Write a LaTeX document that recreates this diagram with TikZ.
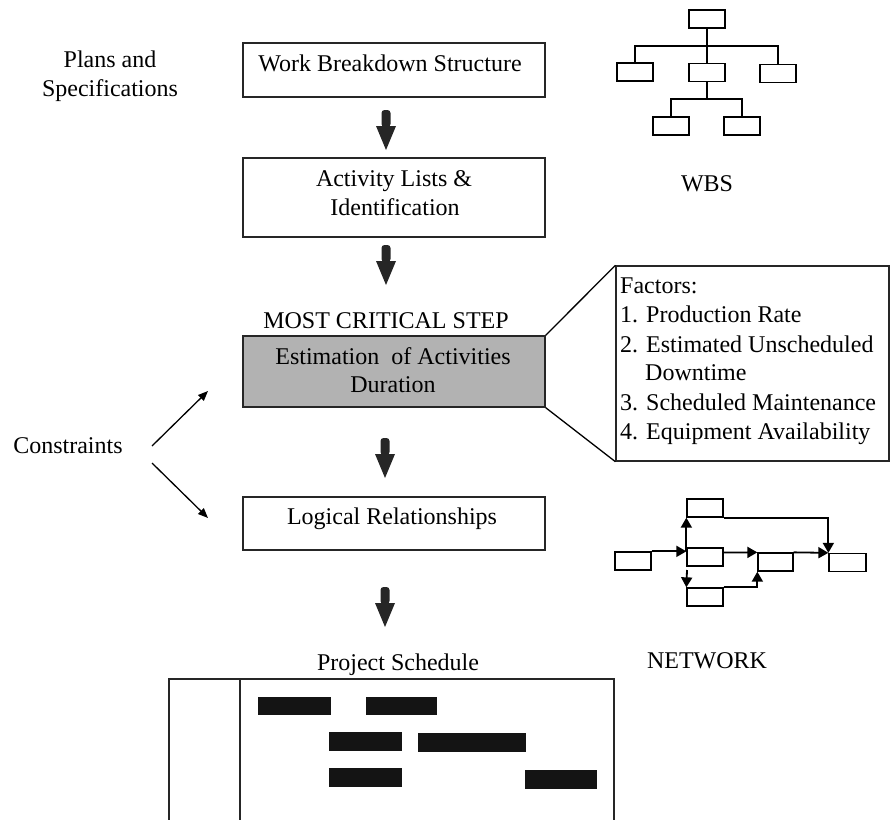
\documentclass[tikz,border=0pt]{standalone}
\usepackage{fontspec}
\setmainfont{Liberation Serif}
\usetikzlibrary{arrows.meta,calc}
\begin{document}
\begin{tikzpicture}[x=1pt,y=-1pt,
  mainbox/.style={draw=black!85, line width=1.3pt, inner sep=0pt, minimum width=302pt},
  txt/.style={anchor=base, inner sep=0pt, font=\fontsize{24}{29}\selectfont},
  ltxt/.style={anchor=base west, inner sep=0pt, font=\fontsize{24}{29}\selectfont},
  smallbox/.style={draw=black, line width=1.3pt, inner sep=0pt, minimum width=36pt, minimum height=18pt},
  treeline/.style={draw=black, line width=1.3pt},
  netline/.style={draw=black, line width=1.8pt, -{Triangle[length=10pt,width=11pt]}},
  thinarrow/.style={draw=black, line width=1.3pt, -{Triangle[length=10pt,width=8pt]}},
  fatarrow/.pic={
    \fill[black!85, rounded corners=3pt] (-4.5,17) -- (-4.5,0) -- (4.5,0) -- (4.5,17) -- cycle;
    \fill[black!85] (-10,16) -- (10,16) -- (0,40) -- cycle;
  },
  ganttbar/.style={fill=black!92, draw=none}
]
\useasboundingbox (0,0) rectangle (891,819);

% main column boxes
\node[mainbox, minimum height=54pt] (wbs) at (394,70) {};
\node[mainbox, minimum height=79pt] (act) at (394,197.5) {};
\node[mainbox, minimum height=71pt, fill=black!30] (est) at (394,371.5) {};
\node[mainbox, minimum height=53pt] (logic) at (394,523.5) {};
\node[draw=black!85, line width=1.3pt, inner sep=0pt, minimum width=273pt, minimum height=195pt] (fac) at (752.5,363.5) {};

% texts in main column
\node[txt] (twbs) at (390,71) {Work Breakdown Structure};
\node[txt] (tact1) at (394,186) {Activity Lists \&};
\node[txt] (tact2) at (395,215) {Identification};
\node[txt] (tmcs) at (386,328) {MOST CRITICAL STEP};
\node[txt] (test1) at (393,364) {Estimation\ \ of Activities};
\node[txt] (test2) at (393,392) {Duration};
\node[txt] (tlog) at (392,524) {Logical Relationships};
\node[txt] (tps) at (398,670) {Project Schedule};

% left labels
\node[txt] (plans1) at (110,67) {Plans and};
\node[txt] (plans2) at (110,96) {Specifications};
\node[txt] (constr) at (68,453) {Constraints};

% right labels
\node[txt] (lwbs) at (707,191) {WBS};
\node[txt] (lnet) at (707,668) {NETWORK};

% factors text
\node[ltxt] (f0) at (620,293) {Factors:};
\node[ltxt] (f1) at (620,322) {1. Production Rate};
\node[ltxt] (f2) at (620,352) {2. Estimated Unscheduled};
\node[ltxt] (f2b) at (645,380) {Downtime};
\node[ltxt] (f3) at (620,410) {3. Scheduled Maintenance};
\node[ltxt] (f4) at (620,439) {4. Equipment Availability};

% callout lines
\draw[black, line width=1.3pt] (est.north east) -- (fac.north west);
\draw[black, line width=1.3pt] (est.south east) -- (fac.south west);

% fat arrows between steps
\pic at (386,110) {fatarrow};
\pic at (386,245) {fatarrow};
\pic at (385,438) {fatarrow};
\pic at (385,587) {fatarrow};

% constraints arrows
\coordinate (cu) at (152,446);
\coordinate (cl) at (152,463);
\coordinate (cut) at (208,391);
\coordinate (clt) at (208,518);
\draw[thinarrow] (cu) -- (cut);
\draw[thinarrow] (cl) -- (clt);

% WBS tree
\node[smallbox] (t0) at (707,19) {};
\node[smallbox] (t1) at (635,72) {};
\node[smallbox] (t2) at (707,72.5) {};
\node[smallbox] (t3) at (778,73.5) {};
\node[smallbox] (t4) at (671,126) {};
\node[smallbox] (t5) at (742,126) {};
\coordinate (bus1) at (707,46);
\coordinate (bus2) at (707,99);
\draw[treeline] (t0.south) -- (t2.north);
\draw[treeline] (bus1) -| (t1.north);
\draw[treeline] (bus1) -| (t3.north);
\draw[treeline] (t2.south) -- (bus2);
\draw[treeline] (bus2) -| (t4.north);
\draw[treeline] (bus2) -| (t5.north);

% network
\node[smallbox] (n1) at (633,561) {};
\node[smallbox] (n2) at (705,508) {};
\node[smallbox] (n3) at (705,557) {};
\node[smallbox] (n4) at (705,597) {};
\node[smallbox, minimum width=35pt] (n5) at (775.5,562) {};
\node[smallbox, minimum width=37pt] (n6) at (847.5,562.5) {};
\coordinate (j1) at (n1.north east -| n3.west);
\coordinate (j2) at (723,552.5);
\coordinate (j3) at (687,570);
\draw[netline] (n1.north east) -- (j1);
\draw[netline] (j1) -- (n2.south west);
\draw[netline] (n2.south east) -| (n6.north west);
\draw[netline] (j2) -- (n5.north west);
\draw[netline] (n5.north east) -- (n6.north west);
\draw[netline] (j3) -- (n4.north west);
\draw[netline] (n4.north east) -| (n5.south west);

% Gantt chart
\coordinate (gtl) at (169,679);
\coordinate (gtr) at (614,679);
\coordinate (gbl) at (169,820);
\coordinate (gbr) at (614,820);
\coordinate (gdt) at (240,679);
\coordinate (gdb) at (240,820);
\draw[black!85, line width=1.3pt] (gbl) -- (gtl) -- (gtr) -- (gbr);
\draw[black!85, line width=1.3pt] (gdt) -- (gdb);
\fill[ganttbar] (258,697) rectangle (331,715);
\fill[ganttbar] (366,697) rectangle (437,715);
\fill[ganttbar] (329,732) rectangle (402,751);
\fill[ganttbar] (418,733) rectangle (526,752);
\fill[ganttbar] (329,768) rectangle (402,787);
\fill[ganttbar] (525,770) rectangle (597,789);
\end{tikzpicture}
\end{document}
